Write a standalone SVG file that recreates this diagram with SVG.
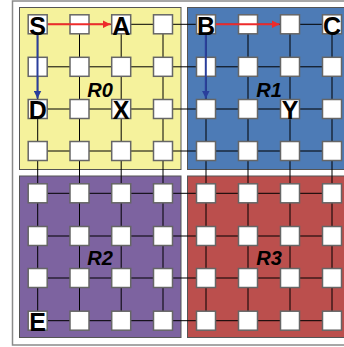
<svg xmlns="http://www.w3.org/2000/svg" width="344" height="347" viewBox="0 0 344 347">
<defs>
<style>
.frame{fill:#fff;stroke:#8a8a8a;stroke-width:1.5}
.reg{stroke:#555;stroke-width:1}
.n{fill:#fff;stroke:#666;stroke-width:1.5}
.l{stroke:#000;stroke-width:1;fill:none}
.t{font-family:"Liberation Sans",Arial,sans-serif;font-weight:bold;font-size:25px;text-anchor:middle;fill:#000}
.r{font-family:"Liberation Sans",Arial,sans-serif;font-weight:bold;font-style:italic;font-size:20px;text-anchor:middle;fill:#000}
</style>
<marker id="ar" viewBox="0 0 10 10" refX="10" refY="5" markerWidth="4" markerHeight="4" orient="auto"><path d="M0,0L10,5L0,10z" fill="#ee2b2b"/></marker>
<marker id="ab" viewBox="0 0 10 10" refX="10" refY="5" markerWidth="4" markerHeight="4" orient="auto"><path d="M0,0L10,5L0,10z" fill="#2a3f9c"/></marker>
</defs>
<rect class="frame" x="12.5" y="1" width="340" height="344"/>
<g id="regions">
<rect id="R0" class="reg" x="19.5" y="7.5" width="161.5" height="162" fill="#f5f29c"/>
<rect id="R1" class="reg" x="187.5" y="7.5" width="170" height="162" fill="#4d7bb6"/>
<rect id="R2" class="reg" x="19.5" y="176" width="161.5" height="161.5" fill="#7d63a0"/>
<rect id="R3" class="reg" x="187.5" y="176" width="170" height="161.5" fill="#bb4f4d"/>
</g>
<g id="connectors">
<path class="l" d="M37.7,24.3H332M37.7,66.8H332M37.7,109H332M37.7,151H332M37.7,193.3H332M37.7,236H332M37.7,278H332M37.7,320.7H332"/>
<path class="l" d="M37.7,24.3V320.7M79.5,24.3V320.7M121.2,24.3V320.7M163,24.3V320.7M206,24.3V320.7M248,24.3V320.7M290,24.3V320.7M332,24.3V320.7"/>
</g>
<g id="nodes">
<g id="n00"><rect class="n" x="28.2" y="14.8" width="19" height="19"/></g>
<g id="n10"><rect class="n" x="70" y="14.8" width="19" height="19"/></g>
<g id="n20"><rect class="n" x="111.7" y="14.8" width="19" height="19"/></g>
<g id="n30"><rect class="n" x="153.5" y="14.8" width="19" height="19"/></g>
<g id="n40"><rect class="n" x="196.5" y="14.8" width="19" height="19"/></g>
<g id="n50"><rect class="n" x="238.5" y="14.8" width="19" height="19"/></g>
<g id="n60"><rect class="n" x="280.5" y="14.8" width="19" height="19"/></g>
<g id="n70"><rect class="n" x="322.5" y="14.8" width="19" height="19"/></g>
<g id="n01"><rect class="n" x="28.2" y="57.3" width="19" height="19"/></g>
<g id="n11"><rect class="n" x="70" y="57.3" width="19" height="19"/></g>
<g id="n21"><rect class="n" x="111.7" y="57.3" width="19" height="19"/></g>
<g id="n31"><rect class="n" x="153.5" y="57.3" width="19" height="19"/></g>
<g id="n41"><rect class="n" x="196.5" y="57.3" width="19" height="19"/></g>
<g id="n51"><rect class="n" x="238.5" y="57.3" width="19" height="19"/></g>
<g id="n61"><rect class="n" x="280.5" y="57.3" width="19" height="19"/></g>
<g id="n71"><rect class="n" x="322.5" y="57.3" width="19" height="19"/></g>
<g id="n02"><rect class="n" x="28.2" y="99.5" width="19" height="19"/></g>
<g id="n12"><rect class="n" x="70" y="99.5" width="19" height="19"/></g>
<g id="n22"><rect class="n" x="111.7" y="99.5" width="19" height="19"/></g>
<g id="n32"><rect class="n" x="153.5" y="99.5" width="19" height="19"/></g>
<g id="n42"><rect class="n" x="196.5" y="99.5" width="19" height="19"/></g>
<g id="n52"><rect class="n" x="238.5" y="99.5" width="19" height="19"/></g>
<g id="n62"><rect class="n" x="280.5" y="99.5" width="19" height="19"/></g>
<g id="n72"><rect class="n" x="322.5" y="99.5" width="19" height="19"/></g>
<g id="n03"><rect class="n" x="28.2" y="141.5" width="19" height="19"/></g>
<g id="n13"><rect class="n" x="70" y="141.5" width="19" height="19"/></g>
<g id="n23"><rect class="n" x="111.7" y="141.5" width="19" height="19"/></g>
<g id="n33"><rect class="n" x="153.5" y="141.5" width="19" height="19"/></g>
<g id="n43"><rect class="n" x="196.5" y="141.5" width="19" height="19"/></g>
<g id="n53"><rect class="n" x="238.5" y="141.5" width="19" height="19"/></g>
<g id="n63"><rect class="n" x="280.5" y="141.5" width="19" height="19"/></g>
<g id="n73"><rect class="n" x="322.5" y="141.5" width="19" height="19"/></g>
<g id="n04"><rect class="n" x="28.2" y="183.8" width="19" height="19"/></g>
<g id="n14"><rect class="n" x="70" y="183.8" width="19" height="19"/></g>
<g id="n24"><rect class="n" x="111.7" y="183.8" width="19" height="19"/></g>
<g id="n34"><rect class="n" x="153.5" y="183.8" width="19" height="19"/></g>
<g id="n44"><rect class="n" x="196.5" y="183.8" width="19" height="19"/></g>
<g id="n54"><rect class="n" x="238.5" y="183.8" width="19" height="19"/></g>
<g id="n64"><rect class="n" x="280.5" y="183.8" width="19" height="19"/></g>
<g id="n74"><rect class="n" x="322.5" y="183.8" width="19" height="19"/></g>
<g id="n05"><rect class="n" x="28.2" y="226.5" width="19" height="19"/></g>
<g id="n15"><rect class="n" x="70" y="226.5" width="19" height="19"/></g>
<g id="n25"><rect class="n" x="111.7" y="226.5" width="19" height="19"/></g>
<g id="n35"><rect class="n" x="153.5" y="226.5" width="19" height="19"/></g>
<g id="n45"><rect class="n" x="196.5" y="226.5" width="19" height="19"/></g>
<g id="n55"><rect class="n" x="238.5" y="226.5" width="19" height="19"/></g>
<g id="n65"><rect class="n" x="280.5" y="226.5" width="19" height="19"/></g>
<g id="n75"><rect class="n" x="322.5" y="226.5" width="19" height="19"/></g>
<g id="n06"><rect class="n" x="28.2" y="268.5" width="19" height="19"/></g>
<g id="n16"><rect class="n" x="70" y="268.5" width="19" height="19"/></g>
<g id="n26"><rect class="n" x="111.7" y="268.5" width="19" height="19"/></g>
<g id="n36"><rect class="n" x="153.5" y="268.5" width="19" height="19"/></g>
<g id="n46"><rect class="n" x="196.5" y="268.5" width="19" height="19"/></g>
<g id="n56"><rect class="n" x="238.5" y="268.5" width="19" height="19"/></g>
<g id="n66"><rect class="n" x="280.5" y="268.5" width="19" height="19"/></g>
<g id="n76"><rect class="n" x="322.5" y="268.5" width="19" height="19"/></g>
<g id="n07"><rect class="n" x="28.2" y="311.2" width="19" height="19"/></g>
<g id="n17"><rect class="n" x="70" y="311.2" width="19" height="19"/></g>
<g id="n27"><rect class="n" x="111.7" y="311.2" width="19" height="19"/></g>
<g id="n37"><rect class="n" x="153.5" y="311.2" width="19" height="19"/></g>
<g id="n47"><rect class="n" x="196.5" y="311.2" width="19" height="19"/></g>
<g id="n57"><rect class="n" x="238.5" y="311.2" width="19" height="19"/></g>
<g id="n67"><rect class="n" x="280.5" y="311.2" width="19" height="19"/></g>
<g id="n77"><rect class="n" x="322.5" y="311.2" width="19" height="19"/></g>
</g>
<g id="arrows">
<line x1="48" y1="24.3" x2="110.5" y2="24.3" stroke="#ee2b2b" stroke-width="2" marker-end="url(#ar)"/>
<line x1="37.5" y1="34.5" x2="37.5" y2="98.5" stroke="#2a3f9c" stroke-width="2" marker-end="url(#ab)"/>
<line x1="216" y1="24.3" x2="279.5" y2="24.3" stroke="#ee2b2b" stroke-width="2" marker-end="url(#ar)"/>
<line x1="205.8" y1="34.5" x2="205.8" y2="98.5" stroke="#2a3f9c" stroke-width="2" marker-end="url(#ab)"/>
</g>
<g id="labels">
<text class="t" x="37.7" y="34.5">S</text>
<text class="t" x="121.2" y="34.5">A</text>
<text class="t" x="37.7" y="119">D</text>
<text class="t" x="121.2" y="119">X</text>
<text class="t" x="206" y="34.5">B</text>
<text class="t" x="332" y="34.5">C</text>
<text class="t" x="290" y="119">Y</text>
<text class="t" x="37.7" y="330.5">E</text>
<text class="r" x="100" y="96.5">R0</text>
<text class="r" x="269" y="96.5">R1</text>
<text class="r" x="100" y="264.5">R2</text>
<text class="r" x="269" y="264.5">R3</text>
</g>
</svg>
